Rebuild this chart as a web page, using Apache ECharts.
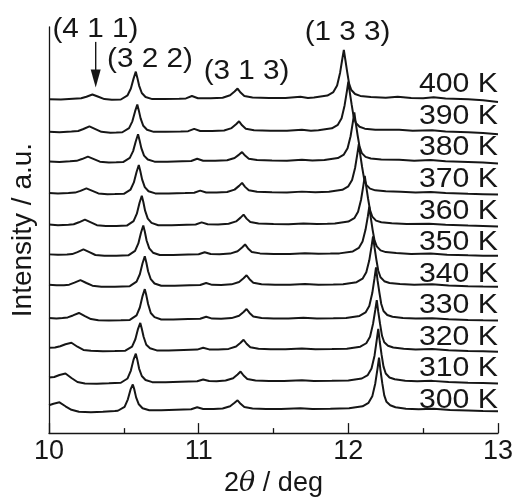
<!DOCTYPE html>
<html><head><meta charset="utf-8">
<script src="https://cdn.jsdelivr.net/npm/echarts@6/dist/echarts.min.js"></script>
<style>html,body{margin:0;padding:0;background:#fff}#c{width:517px;height:502px}</style>
</head><body><div id="c"></div>
<script>
// ---- data (2theta in deg, intensity relative to each curve's baseline, a.u.) ----
const temperatures = ['300 K','310 K','320 K','330 K','340 K','350 K','360 K','370 K','380 K','390 K','400 K'];
const offsets = [23, 51, 83, 114, 148, 179, 209, 241, 273, 303, 336];
const xTicks = [10, 11, 12, 13];
const peakNames = ['(4 1 1)', '(3 2 2)', '(3 1 3)', '(1 3 3)'];

const c300 = [[10.00,5],[10.03,6.5],[10.07,8],[10.11,4],[10.15,0.5],[10.20,-1.5],[10.28,-2],[10.36,-1.5],[10.44,-0.8],[10.46,-0.5],[10.505,3.5],[10.527,11],[10.545,21],[10.56,26],[10.57,21],[10.582,13],[10.60,6],[10.625,2],[10.67,0],[10.75,0],[10.85,0.5],[10.95,1],[10.99,3],[11.03,1.3],[11.10,1.2],[11.16,1.8],[11.21,4],[11.24,7.5],[11.26,10],[11.28,6.5],[11.305,3.2],[11.36,1.8],[11.45,1.3],[11.55,1.2],[11.68,2],[11.76,1.3],[11.88,1.5],[12.005,2],[12.095,4],[12.135,7.5],[12.16,14],[12.18,27],[12.195,42],[12.205,53],[12.215,40],[12.227,27],[12.24,15],[12.255,8.5],[12.28,5],[12.315,3],[12.385,1.5],[12.47,1],[12.57,1.5],[12.68,0.3],[12.8,-0.3],[12.9,-0.8],[13.0,-1]];
const c310 = [[10.00,5],[10.035,5.5],[10.07,7.5],[10.11,9],[10.15,4.5],[10.19,0.5],[10.24,-1],[10.32,-1.2],[10.40,-0.8],[10.48,-0.3],[10.525,4],[10.547,12],[10.565,23],[10.58,29],[10.59,23],[10.602,14],[10.62,6.5],[10.645,2.5],[10.69,0.3],[10.78,0.3],[10.88,0.8],[10.99,1.2],[11.03,3],[11.07,1.4],[11.12,1.3],[11.18,1.9],[11.23,4.2],[11.26,8],[11.28,11],[11.30,7],[11.325,3.5],[11.38,2],[11.47,1.5],[11.57,1.4],[11.69,2.2],[11.77,1.5],[11.89,1.6],[12.00,2],[12.09,4],[12.13,7.5],[12.155,14],[12.175,27],[12.19,43],[12.20,54],[12.21,41],[12.222,28],[12.235,16],[12.25,9],[12.275,5],[12.31,3.2],[12.38,1.8],[12.46,1.2],[12.56,1.6],[12.67,0.5],[12.8,-0.2],[12.9,-0.6],[13.0,-1]];
const c320 = [[10.00,3],[10.04,3.2],[10.075,4.5],[10.11,6.5],[10.15,8],[10.19,4],[10.23,0.8],[10.28,0],[10.36,-0.5],[10.44,-0.3],[10.51,0],[10.555,4],[10.577,11.5],[10.595,22],[10.61,28],[10.62,22],[10.632,14],[10.65,6],[10.675,2.5],[10.72,0.3],[10.80,0.2],[10.90,0.8],[10.99,1.1],[11.03,3],[11.07,1.3],[11.13,1.2],[11.20,1.8],[11.25,4.2],[11.28,8],[11.30,11],[11.32,7],[11.345,3.5],[11.40,2],[11.48,1.5],[11.58,1.4],[11.69,2.2],[11.78,1.5],[11.89,1.7],[11.99,2],[12.08,4],[12.12,7.5],[12.145,14],[12.165,27],[12.18,41],[12.19,51],[12.20,39],[12.212,27],[12.225,15],[12.24,8.5],[12.265,5],[12.30,3.2],[12.37,2],[12.45,1.3],[12.56,1.6],[12.67,0.5],[12.8,-0.2],[12.9,-0.6],[13.0,-1]];
const c330 = [[10.00,2],[10.05,1.5],[10.09,2],[10.125,2.5],[10.16,4.5],[10.20,7],[10.24,3.8],[10.28,0.8],[10.33,-0.3],[10.40,-0.5],[10.48,-0.3],[10.54,0],[10.585,4.5],[10.607,12.5],[10.625,24],[10.64,31],[10.65,25],[10.662,16],[10.68,7],[10.705,2.8],[10.75,0.4],[10.83,0.3],[10.93,0.8],[11.01,1.1],[11.05,3.2],[11.09,1.3],[11.15,1.2],[11.22,1.8],[11.27,4.2],[11.30,8],[11.32,11],[11.34,7],[11.365,3.5],[11.42,2],[11.50,1.5],[11.60,1.4],[11.70,2.2],[11.79,1.5],[11.90,1.7],[11.985,2],[12.075,4],[12.115,7.5],[12.14,14],[12.16,27],[12.175,42],[12.185,53],[12.195,40],[12.207,28],[12.22,16],[12.235,9],[12.26,5],[12.295,3.2],[12.365,2],[12.45,1.3],[12.56,1.7],[12.67,0.6],[12.8,0],[12.9,-0.4],[13.0,-0.5]];
const c340 = [[10.00,1.5],[10.05,0.8],[10.10,1],[10.135,1.5],[10.17,3.5],[10.21,6],[10.25,3.2],[10.29,0.5],[10.35,-0.5],[10.44,-0.5],[10.54,0],[10.585,4.5],[10.607,12],[10.625,23],[10.64,30],[10.65,24],[10.662,15],[10.68,7],[10.705,2.7],[10.75,0.4],[10.84,0.3],[10.94,0.8],[11.01,1.1],[11.05,3.2],[11.09,1.3],[11.15,1.2],[11.22,1.8],[11.27,4.2],[11.30,8],[11.32,11],[11.34,7],[11.365,3.5],[11.42,2],[11.51,1.5],[11.61,1.4],[11.71,2.1],[11.80,1.5],[11.90,1.7],[11.965,2],[12.055,4],[12.095,7.5],[12.12,14],[12.14,26],[12.155,40],[12.165,50],[12.175,39],[12.187,27],[12.20,15.5],[12.215,9],[12.24,5],[12.275,3.2],[12.345,2.2],[12.44,1.4],[12.56,1.8],[12.67,0.6],[12.8,0],[12.9,-0.4],[13.0,-0.5]];
const c350 = [[10.00,1],[10.06,0.5],[10.12,0.8],[10.155,1.3],[10.19,3.3],[10.23,6],[10.27,3.2],[10.31,0.4],[10.37,-0.5],[10.45,-0.4],[10.53,0],[10.575,4.5],[10.597,12],[10.615,23],[10.63,30],[10.64,24],[10.652,15],[10.67,7],[10.695,2.7],[10.74,0.4],[10.83,0.3],[10.93,0.8],[11.00,1.1],[11.04,3.2],[11.08,1.3],[11.14,1.2],[11.21,1.8],[11.26,4.2],[11.29,8],[11.31,11],[11.33,7],[11.355,3.5],[11.41,2],[11.50,1.5],[11.61,1.4],[11.71,2.1],[11.80,1.6],[11.88,1.8],[11.94,2],[12.03,4],[12.07,7.5],[12.095,14],[12.115,26],[12.13,39],[12.14,49],[12.15,38],[12.162,26],[12.175,15],[12.19,9],[12.215,5],[12.25,3.3],[12.32,2.3],[12.42,1.5],[12.55,1.8],[12.66,0.7],[12.8,0],[12.9,-0.4],[13.0,-0.5]];
const c360 = [[10.00,1],[10.06,0.4],[10.13,0.8],[10.165,1.3],[10.20,3.3],[10.24,6],[10.28,3.2],[10.32,0.4],[10.38,-0.5],[10.45,-0.4],[10.52,0],[10.565,4.5],[10.587,12],[10.605,23],[10.62,30],[10.63,24],[10.642,15],[10.66,7],[10.685,2.7],[10.73,0.4],[10.82,0.3],[10.92,0.8],[10.98,1.1],[11.02,3.2],[11.06,1.3],[11.13,1.2],[11.20,1.8],[11.25,4.2],[11.28,8],[11.30,11],[11.32,7],[11.345,3.5],[11.40,2],[11.50,1.5],[11.60,1.4],[11.70,2.1],[11.79,1.6],[11.86,1.8],[11.91,2],[12.00,4],[12.04,7.5],[12.065,14],[12.085,26],[12.10,40],[12.11,50],[12.12,39],[12.132,27],[12.145,15.5],[12.16,9],[12.185,5],[12.22,3.4],[12.29,2.4],[12.39,1.6],[12.54,1.8],[12.65,0.8],[12.8,0],[12.9,-0.4],[13.0,-0.8]];
const c370 = [[10.00,0.8],[10.06,0.3],[10.13,0.7],[10.175,1.2],[10.21,3],[10.25,5.5],[10.29,3],[10.33,0.4],[10.39,-0.4],[10.44,-0.3],[10.50,0],[10.545,4.3],[10.567,11.5],[10.585,22],[10.60,29],[10.61,23],[10.622,14.5],[10.64,6.8],[10.665,2.6],[10.71,0.4],[10.80,0.3],[10.91,0.8],[10.97,1.1],[11.01,3.2],[11.05,1.3],[11.12,1.2],[11.19,1.8],[11.24,4.2],[11.27,8],[11.29,11],[11.31,7],[11.335,3.5],[11.39,2],[11.49,1.5],[11.59,1.4],[11.69,2.2],[11.78,1.6],[11.87,2],[11.96,4],[12.00,7.5],[12.025,14],[12.045,26],[12.06,40],[12.07,50],[12.08,39],[12.092,27],[12.105,15.5],[12.12,9],[12.145,5.2],[12.18,3.5],[12.25,2.5],[12.35,2],[12.45,1.4],[12.55,1.9],[12.65,0.8],[12.8,0],[12.9,-0.4],[13.0,-0.8]];
const c380 = [[10.00,0.5],[10.07,0],[10.14,0.7],[10.185,1.2],[10.22,3],[10.26,5.5],[10.30,3],[10.34,0.4],[10.40,-0.4],[10.45,-0.3],[10.495,0],[10.54,4.2],[10.562,11],[10.58,21],[10.595,28],[10.605,22],[10.617,14],[10.635,6.5],[10.66,2.5],[10.705,0.4],[10.79,0.3],[10.89,0.8],[10.95,1.1],[10.99,3.3],[11.03,1.3],[11.11,1.2],[11.19,1.8],[11.24,4],[11.27,7.5],[11.29,10],[11.31,6.5],[11.335,3.3],[11.39,2],[11.49,1.5],[11.59,1.4],[11.69,2.3],[11.76,1.6],[11.84,2],[11.93,4],[11.97,7.5],[11.995,14],[12.015,26],[12.03,40],[12.04,50],[12.05,39],[12.062,27],[12.075,15.5],[12.09,9],[12.115,5.2],[12.15,3.5],[12.22,2.5],[12.34,2.3],[12.44,1.4],[12.55,2],[12.65,0.8],[12.8,0.1],[12.9,-0.5],[13.0,-1.5]];
const c390 = [[10.00,0.5],[10.07,0],[10.15,0.8],[10.195,1.3],[10.23,3.3],[10.27,6],[10.31,3.2],[10.35,0.4],[10.41,-0.4],[10.45,-0.3],[10.49,0],[10.535,4.2],[10.557,11],[10.575,21],[10.59,28],[10.60,22],[10.612,14],[10.63,6.5],[10.655,2.5],[10.70,0.4],[10.78,0.4],[10.88,0.8],[10.93,1.1],[10.97,3.4],[11.01,1.3],[11.09,1.2],[11.17,1.8],[11.22,4.2],[11.25,8],[11.27,11],[11.29,7],[11.315,3.5],[11.37,2],[11.48,1.5],[11.59,1.4],[11.69,2.5],[11.75,1.6],[11.80,2],[11.89,4],[11.93,7.5],[11.955,14],[11.975,27],[11.99,41],[12.00,51],[12.01,40],[12.022,28],[12.035,16],[12.05,9.5],[12.075,5.5],[12.11,3.6],[12.18,2.5],[12.34,2.5],[12.43,1.4],[12.56,2.1],[12.65,0.8],[12.8,0],[12.9,-0.8],[13.0,-2]];
const c400 = [[10.00,0.3],[10.08,0],[10.16,0.8],[10.215,1.2],[10.25,2.8],[10.29,5],[10.33,2.7],[10.37,0.4],[10.42,-0.3],[10.48,0],[10.525,4.2],[10.547,11],[10.565,21],[10.58,28],[10.59,22],[10.602,14],[10.62,6.5],[10.645,2.5],[10.69,0.4],[10.77,0.4],[10.87,0.8],[10.915,1.1],[10.955,3.5],[10.995,1.3],[11.08,1.2],[11.16,1.8],[11.21,4.2],[11.24,8],[11.26,11],[11.28,7],[11.305,3.5],[11.36,2],[11.47,1.5],[11.58,1.4],[11.68,2.8],[11.73,1.6],[11.77,2],[11.86,4],[11.90,7.5],[11.925,14],[11.945,27],[11.96,41],[11.97,50],[11.98,40],[11.992,28],[12.005,16],[12.02,9.5],[12.045,5.5],[12.08,3.6],[12.15,2.5],[12.25,1.8],[12.33,2.8],[12.42,1.5],[12.50,1.2],[12.57,2.2],[12.65,0.9],[12.8,0.2],[12.9,-0.8],[13.0,-2.5]];
const curves = [c300, c310, c320, c330, c340, c350, c360, c370, c380, c390, c400];

// ---- chart ----
const FONT = '"Liberation Sans", Arial, Helvetica, sans-serif';
const INK = '#161616';
const chart = echarts.init(document.getElementById('c'), null, {renderer: 'canvas'});

const series = curves.map((pts, i) => ({
  type: 'line', name: temperatures[i], showSymbol: false, symbol: 'none', smooth: false,
  animation: false, silent: true,
  lineStyle: {color: INK, width: 2},
  data: pts.map(p => [p[0], p[1] + offsets[i]])
}));

chart.setOption({
  animation: false,
  backgroundColor: '#fff',
  grid: {left: 49, right: 19, top: 27, bottom: 66, containLabel: false},
  xAxis: {
    type: 'value', min: xTicks[0], max: xTicks[xTicks.length - 1], interval: 1,
    name: '2{i|θ} / deg', nameLocation: 'middle', nameGap: 33,
    nameTextStyle: {fontSize: 27, fontFamily: FONT, color: INK,
      rich: {i: {fontStyle: 'italic', fontSize: 27, fontFamily: '"DejaVu Serif", serif', color: INK}}},
    axisLine: {show: true, onZero: false, lineStyle: {color: INK, width: 1.3}},
    axisTick: {show: true, inside: true, length: 10, lineStyle: {color: INK, width: 1.3}},
    minorTick: {show: true, splitNumber: 2, length: 5, lineStyle: {color: INK, width: 1.3}},
    axisLabel: {fontSize: 27, fontFamily: FONT, color: INK, margin: 5},
    splitLine: {show: false}
  },
  yAxis: {
    type: 'value', min: 0, max: 409,
    name: 'Intensity / a.u.', nameLocation: 'middle', nameGap: 12,
    nameTextStyle: {fontSize: 28, fontFamily: FONT, color: INK},
    axisLine: {show: true, onZero: false, lineStyle: {color: INK, width: 1.3}},
    axisTick: {show: false}, axisLabel: {show: false}, splitLine: {show: false}
  },
  series: series
});

// ---- annotations placed through the axis scales ----
const toPx = (x, y) => chart.convertToPixel({xAxisIndex: 0, yAxisIndex: 0}, [x, y]);
const graphics = [];
// temperature labels at the right end, centred a little above each trace
temperatures.forEach((t, i) => {
  const p = toPx(13, 33 + i * 31.8);
  graphics.push({type: 'text', x: p[0], y: p[1], scaleX: 1.08, silent: true,
    style: {text: t, fontSize: 28, fontFamily: FONT, fill: INK, align: 'right', verticalAlign: 'middle'}});
});
// hkl labels
const peakAnchors = [[10.31, 406], [10.675, 376], [11.32, 364], [11.995, 403]];
peakNames.forEach((n, i) => {
  const p = toPx(peakAnchors[i][0], peakAnchors[i][1]);
  graphics.push({type: 'text', x: p[0], y: p[1], scaleX: 1.1, silent: true,
    style: {text: n, fontSize: 27, fontFamily: FONT, fill: INK, align: 'center', verticalAlign: 'middle'}});
});
// arrow for (4 1 1)
const a0 = toPx(10.312, 394), a1 = toPx(10.312, 348);
graphics.push({type: 'line', silent: true, shape: {x1: a0[0], y1: a0[1], x2: a1[0], y2: a1[1] - 12},
  style: {stroke: INK, lineWidth: 1.4}});
graphics.push({type: 'polygon', silent: true,
  shape: {points: [[a1[0] - 5, a1[1] - 18], [a1[0] + 5, a1[1] - 18], [a1[0], a1[1]]]},
  style: {fill: INK}});
chart.setOption({graphic: graphics});
</script></body></html>
